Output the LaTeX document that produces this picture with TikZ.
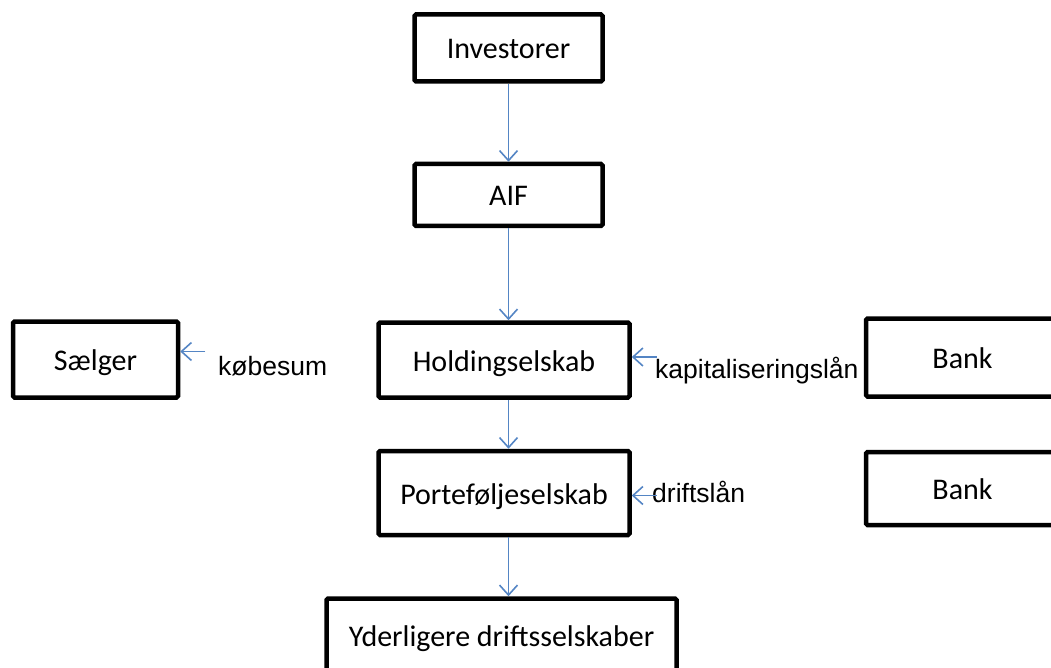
\documentclass[tikz,border=0pt]{standalone}
\usepackage{fontspec}
\setmainfont{Carlito}
\newfontfamily\arialfont{Liberation Sans}
\usetikzlibrary{arrows.meta}
\usetikzlibrary{positioning}
\definecolor{flowblue}{RGB}{84,133,196}

\begin{document}
\begin{tikzpicture}
    \tikzset{Box/.style={rectangle, draw, line width=4.5pt, rounded corners=1.5pt, text centered, inner sep=0pt, text height=22pt, text depth=0pt, font=\fontsize{30}{36}\selectfont}};
    \tikzset{Label/.style={inner sep=0pt, font=\arialfont\fontsize{26.5}{32}\selectfont}};
    \tikzset{Flow/.style={draw=flowblue, line width=1.6pt, -{Straight Barb[length=10pt, width=18pt]}}};

    \useasboundingbox (0,0) rectangle (1051pt,-668pt);

    \node[Box, minimum width=188pt, minimum height=67pt](inv) at (508.5pt,-48pt){Investorer};
    \node[Box, minimum width=188pt, minimum height=62pt, below=78pt of inv](aif){AIF};
    \node[Box, minimum width=251pt, minimum height=75pt, below=92pt of aif, xshift=-4.5pt](hold){Holdingselskab};
    \node[Box, minimum width=251pt, minimum height=84pt, below=49pt of hold](port){Porteføljeselskab};
    \node[Box, minimum width=350pt, minimum height=74pt, below=59pt of port, xshift=-2.5pt](yder){Yderligere driftsselskaber};
    \node[Box, minimum width=165pt, minimum height=76pt, left=196pt of hold, yshift=0.5pt](saelger){Sælger};
    \node[Box, minimum width=193pt, minimum height=78pt, right=232pt of hold, yshift=2.5pt](bank1){Bank};
    \node[Box, minimum width=193pt, minimum height=73pt, right=232pt of port, yshift=4.5pt](bank2){Bank};

    \coordinate (kb) at ([xshift=25pt, yshift=8pt]saelger.east);
    \coordinate (kl) at ([xshift=25pt, yshift=3pt]hold.east);
    \coordinate (dl) at ([xshift=25pt, yshift=-2.5pt]port.east);

    \node[Label, anchor=base west](kbtext) at (218pt,-375pt){købesum};
    \node[Label, anchor=base west](kltext) at (655pt,-378pt){kapitaliseringslån};
    \node[Label, anchor=base west](dltext) at (652pt,-502pt){driftslån};

    \draw[Flow] (inv.south -| aif) --(aif.north);
    \draw[Flow] (aif.south) --(aif.south |- hold.north);
    \draw[Flow] (hold.south -| aif) --(port.north -| aif);
    \draw[Flow] (port.south -| aif) --(yder.north -| aif);

    \draw[Flow] (kb) --(kb -| saelger.east);
    \draw[Flow] (kl) --(kl -| hold.east);
    \draw[Flow] (dl) --(dl -| port.east);
  \end{tikzpicture}
\end{document}
